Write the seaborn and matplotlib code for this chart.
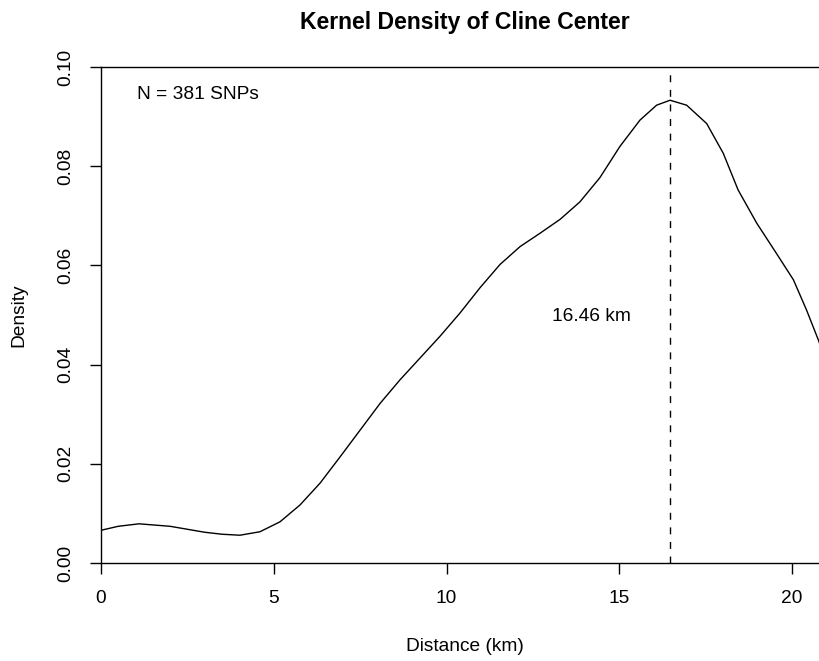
import matplotlib
matplotlib.use("Agg")
import matplotlib.pyplot as plt
import seaborn as sns
import pandas as pd

# Data
distance_km = [0.0, 0.5, 1.1, 2.0, 3.0, 3.5, 4.02, 4.6, 5.18, 5.76, 6.34, 6.92,
               7.5, 8.08, 8.65, 9.23, 9.81, 10.39, 10.97, 11.55, 12.13, 12.71, 13.29,
               13.86, 14.44, 15.02, 15.6, 16.08, 16.47, 16.95, 17.53, 18.01,
               18.44, 18.98, 19.55, 20.04, 20.42, 20.76, 21.07]
density = [0.0066, 0.0074, 0.0079, 0.0074, 0.0062, 0.0058, 0.0056, 0.0063, 0.0083,
           0.0117, 0.0161, 0.0214, 0.0268, 0.0322, 0.0369, 0.0413, 0.0457, 0.0504,
           0.0555, 0.0602, 0.0638, 0.0665, 0.0693, 0.0728, 0.0777, 0.0840, 0.0893,
           0.0923, 0.0933, 0.0923, 0.0886, 0.0826, 0.0752, 0.0685, 0.0624, 0.0571,
           0.0510, 0.0450, 0.0390]
x_ticks = [0, 5, 10, 15, 20]
y_ticks = [0.00, 0.02, 0.04, 0.06, 0.08, 0.10]
peak_km = 16.46
n_snps = 381

df = pd.DataFrame({"Distance (km)": distance_km, "Density": density})

sns.set_theme(style="white")
plt.rcParams["font.family"] = ["Liberation Sans", "DejaVu Sans"]

fig = plt.figure(figsize=(8.2, 6.61), dpi=100)
ax = fig.add_axes([101 / 820, (661 - 563) / 661, 728 / 820, (563 - 67) / 661])

sns.lineplot(data=df, x="Distance (km)", y="Density", ax=ax, color="black",
             linewidth=1.0, estimator=None, sort=False)
ax.axvline(peak_km, color="black", linewidth=1.0, linestyle=(0, (5, 5.5)))

ax.set_xlim(0, 21.07)
ax.set_ylim(0, 0.1)
ax.set_xticks(x_ticks)
ax.set_xticklabels([str(t) for t in x_ticks])
ax.set_yticks(y_ticks)
ax.set_yticklabels([f"{t:.2f}" for t in y_ticks], rotation=90, va="center")

for s in ax.spines.values():
    s.set_visible(True)
    s.set_color("black")
    s.set_linewidth(1.0)

ax.tick_params(axis="both", direction="out", length=8, width=1.0, color="black",
               labelsize=13.8, pad=11.5, labelcolor="black",
               bottom=True, left=True, top=False, right=False)

ax.set_xlabel("Distance (km)", fontsize=13.8, labelpad=22, color="black")
ax.set_ylabel("Density", fontsize=13.8, labelpad=21, color="black")
ax.set_title("Kernel Density of Cline Center", fontsize=16.6, fontweight="bold",
             pad=27, color="black")

ax.text(1.04, 0.0944, f"N = {n_snps} SNPs", fontsize=13.8, ha="left", va="center",
        color="black")
ax.text(14.2, 0.0496, f"{peak_km:.2f} km", fontsize=13.8, ha="center", va="center",
        color="black")

fig.savefig("out.png", dpi=100)
